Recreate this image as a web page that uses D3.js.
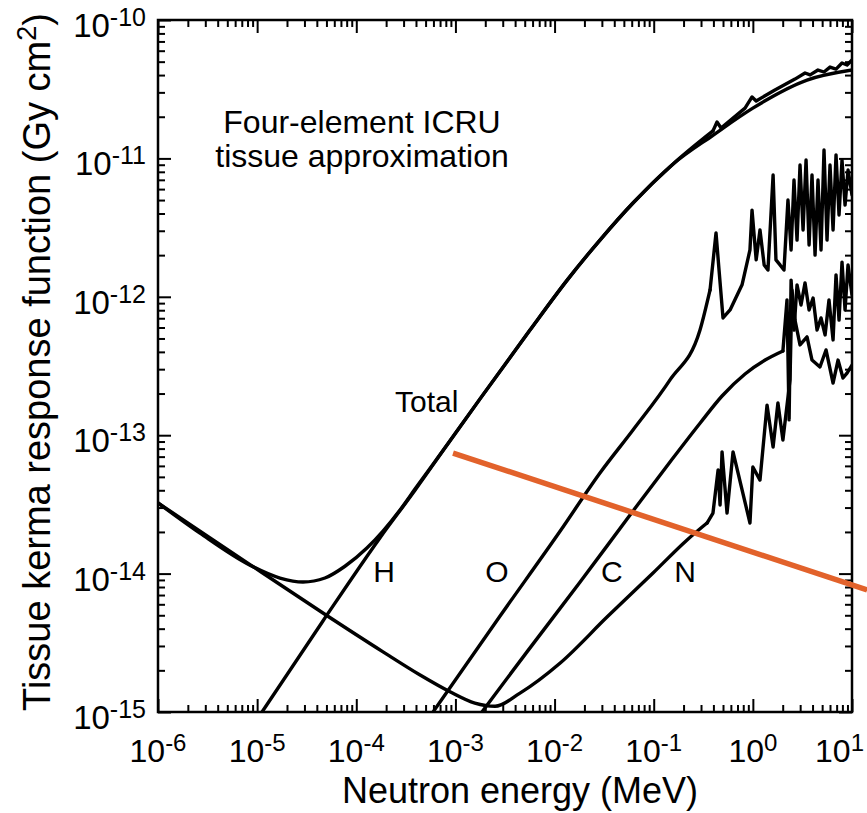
<!DOCTYPE html>
<html><head><meta charset="utf-8">
<script src="https://cdn.jsdelivr.net/npm/d3@7"></script>
<style>
body{margin:0;background:#fff}
svg{display:block}
text{font-family:"Liberation Sans",Arial,Helvetica,sans-serif;fill:#000}
</style>
</head><body>
<svg id="chart" width="867" height="813"></svg>
<script>
// ---------- data ----------
const xTickExponents = [-6, -5, -4, -3, -2, -1, 0, 1];
const yTickExponents = [-15, -14, -13, -12, -11, -10];

const totalE = [1e-6, 2.65e-6, 8.47e-6, 1.70e-5, 2.90e-5, 4.83e-5, 7.69e-5, 1.28e-4, 1.86e-4, 2.76e-4, 3.91e-4, 8.22e-4, 1.77e-3, 5.65e-3, 1.34e-2, 2.87e-2, 6.18e-2, 0.157, 0.396, 0.435, 0.478, 0.834, 0.981, 1.08, 1.67, 2.66, 3.36, 3.78, 4.54, 5.22, 6.00, 6.90, 7.93, 8.91, 10];
const totalK = [3.24e-14, 1.96e-14, 1.15e-14, 9.29e-15, 8.69e-15, 9.29e-15, 1.13e-14, 1.53e-14, 2.03e-14, 2.88e-14, 4.08e-14, 8.49e-14, 1.83e-13, 5.75e-13, 1.32e-12, 2.57e-12, 4.76e-12, 9.12e-12, 1.58e-11, 1.83e-11, 1.66e-11, 2.31e-11, 2.78e-11, 2.60e-11, 3.12e-11, 3.74e-11, 4.14e-11, 4.01e-11, 4.35e-11, 4.21e-11, 4.57e-11, 4.42e-11, 4.89e-11, 4.73e-11, 5.14e-11];

const hE = [1.12e-5, 4.61e-5, 1.73e-4, 3.91e-4, 8.22e-4, 1.77e-3, 5.65e-3, 1.34e-2, 2.87e-2, 6.18e-2, 0.157, 0.396, 1.0, 3.52, 10];
const hK = [1e-15, 4.55e-15, 1.81e-14, 4.00e-14, 8.49e-14, 1.83e-13, 5.75e-13, 1.32e-12, 2.57e-12, 4.76e-12, 9.12e-12, 1.47e-11, 2.31e-11, 3.68e-11, 4.35e-11];

const oE = [5.94e-4, 2.82e-3, 1.14e-2, 2.87e-2, 6.18e-2, 0.146, 0.293, 0.370, 0.425, 0.456, 0.500, 0.589, 0.778, 0.935, 0.981, 1.08, 1.18, 1.30, 1.42, 1.60, 1.71, 1.88, 2.06, 2.26, 2.43, 2.60, 2.79, 2.99, 3.21, 3.44, 3.69, 3.95, 4.24, 4.54, 4.87, 5.22, 5.60, 6.00, 6.44, 6.90, 7.40, 7.93, 8.51, 9.12, 10];
const oK = [1e-15, 4.94e-15, 2.03e-14, 5.33e-14, 1.09e-13, 2.51e-13, 5.75e-13, 1.12e-12, 2.89e-12, 1.56e-12, 7.03e-13, 8.03e-13, 1.22e-12, 2.18e-12, 4.23e-12, 1.85e-12, 3.04e-12, 1.70e-12, 1.56e-12, 7.59e-12, 1.85e-12, 1.70e-12, 1.56e-12, 5.00e-12, 2.18e-12, 6.98e-12, 2.57e-12, 8.95e-12, 3.04e-12, 9.73e-12, 2.37e-12, 7.59e-12, 2.00e-12, 6.98e-12, 2.18e-12, 1.15e-11, 2.57e-12, 8.95e-12, 3.04e-12, 1.06e-11, 3.90e-12, 9.73e-12, 4.60e-12, 8.24e-12, 5.44e-12];

const cE = [1.85e-3, 5.27e-3, 1.81e-2, 5.77e-2, 0.146, 0.293, 0.489, 0.834, 1.33, 2.01, 2.21, 2.32, 2.43, 2.60, 2.79, 3.06, 3.36, 3.69, 4.05, 4.44, 4.87, 5.35, 5.86, 6.44, 6.90, 7.40, 7.93, 8.51, 9.12, 10];
const cK = [1e-15, 2.72e-15, 8.69e-15, 2.65e-14, 6.40e-14, 1.22e-13, 1.92e-13, 2.77e-13, 3.49e-13, 4.06e-13, 9.48e-13, 1.29e-13, 1.32e-12, 5.75e-13, 1.22e-12, 8.73e-13, 1.26e-12, 8.03e-13, 9.79e-13, 5.75e-13, 7.03e-13, 5.30e-13, 9.48e-13, 4.88e-13, 1.44e-12, 6.79e-13, 1.78e-12, 8.03e-13, 1.70e-12, 1.03e-12];

const nE = [1e-6, 3.35e-6, 1.07e-5, 4.61e-5, 1.86e-4, 4.40e-4, 8.81e-4, 1.57e-3, 2.51e-3, 4.48e-3, 1.14e-2, 3.38e-2, 9.84e-2, 0.217, 0.345, 0.396, 0.446, 0.467, 0.489, 0.549, 0.631, 0.935, 1.0, 1.18, 1.39, 1.60, 1.79, 2.01, 2.37, 2.48, 2.66, 2.99, 3.52, 3.95, 4.75, 5.47, 6.44, 7.23, 8.11, 8.91, 10];
const nK = [3.24e-14, 1.81e-14, 1.04e-14, 5.19e-15, 2.72e-15, 1.85e-15, 1.40e-15, 1.16e-15, 1.10e-15, 1.37e-15, 2.26e-15, 4.85e-15, 1.01e-14, 1.75e-14, 2.32e-14, 2.74e-14, 5.61e-14, 3.13e-14, 7.57e-14, 2.74e-14, 7.57e-14, 2.32e-14, 5.89e-14, 4.74e-14, 1.65e-13, 8.22e-14, 1.71e-13, 9.23e-14, 2.51e-13, 1.12e-12, 6.79e-13, 4.49e-13, 5.13e-13, 3.49e-13, 3.11e-13, 4.13e-13, 2.38e-13, 3.49e-13, 2.59e-13, 2.81e-13, 3.21e-13];

// orange overlay segment (data coordinates of its end points)
const orangeE = [9.46e-4, 14.2];
const orangeK = [7.43e-14, 7.62e-15];

const titleLines = ["Four-element ICRU", "tissue approximation"];
const curveLabels = ["H", "O", "C", "N"];
const curveLabelE = [1.91e-4, 2.62e-3, 3.79e-2, 0.207];
const curveLabelK = 8.69e-15;
const totalLabelE = 2.46e-4, totalLabelK = 1.47e-13;
const xTitle = "Neutron energy (MeV)";

// ---------- layout ----------
const svg = d3.select("#chart");
const W = 867;
const L = 158, R = 852, T = 20, B = 712;
const x = d3.scaleLog().domain([1e-6, 10]).range([L, R]);
const y = d3.scaleLog().domain([1e-15, 1e-10]).range([B, T]);

const majorX = xTickExponents.map(e => Math.pow(10, e));
const majorY = yTickExponents.map(e => Math.pow(10, e));
const minorOf = exps => {
  const out = [];
  for (let i = 0; i < exps.length - 1; i++)
    for (let k = 2; k <= 9; k++) out.push(k * Math.pow(10, exps[i]));
  return out;
};
const minorX = minorOf(xTickExponents);
const minorY = minorOf(yTickExponents);

svg.append("defs").append("clipPath").attr("id", "plotclip")
  .append("rect").attr("x", L).attr("y", T).attr("width", R - L).attr("height", B - T);

// ticks (inward on all four sides)
const MAJ = 13, MIN = 7;
function addAxis(gen, transform) {
  const g = svg.append("g").attr("transform", transform).call(gen);
  g.select(".domain").remove();
  g.selectAll("line").attr("stroke", "#000").attr("stroke-width", 2);
  g.selectAll("text").remove();
}
addAxis(d3.axisBottom(x).tickValues(majorX).tickSize(-MAJ), `translate(0,${B})`);
addAxis(d3.axisBottom(x).tickValues(minorX).tickSize(-MIN), `translate(0,${B})`);
addAxis(d3.axisTop(x).tickValues(majorX).tickSize(-MAJ), `translate(0,${T})`);
addAxis(d3.axisTop(x).tickValues(minorX).tickSize(-MIN), `translate(0,${T})`);
addAxis(d3.axisLeft(y).tickValues(majorY).tickSize(-MAJ), `translate(${L},0)`);
addAxis(d3.axisLeft(y).tickValues(minorY).tickSize(-MIN), `translate(${L},0)`);
addAxis(d3.axisRight(y).tickValues(majorY).tickSize(-MAJ), `translate(${R},0)`);
addAxis(d3.axisRight(y).tickValues(minorY).tickSize(-MIN), `translate(${R},0)`);

svg.append("rect").attr("x", L).attr("y", T).attr("width", R - L).attr("height", B - T)
  .attr("fill", "none").attr("stroke", "#000").attr("stroke-width", 2.5);

// tick labels
const xl = svg.append("g");
xTickExponents.forEach(e => {
  const t = xl.append("text").attr("x", x(Math.pow(10, e))).attr("y", B + 50)
    .attr("text-anchor", "middle").style("font-size", "32px");
  t.append("tspan").text("10");
  t.append("tspan").attr("dy", -11).style("font-size", "24px").text(String(e));
  const bb = t.node().getBBox();
  if (bb.x + bb.width > W - 3) t.attr("text-anchor", "end").attr("x", W - 3);
});
const yl = svg.append("g");
yTickExponents.forEach(e => {
  const t = yl.append("text").attr("x", 146).attr("y", y(Math.pow(10, e)) + 17)
    .attr("text-anchor", "end").style("font-size", "33px");
  t.append("tspan").text("10");
  t.append("tspan").attr("dy", -11).style("font-size", "25px").text(String(e));
});

// axis titles
svg.append("text").attr("x", 520).attr("y", 803).attr("text-anchor", "middle")
  .style("font-size", "36px").text(xTitle);
const yt = svg.append("text").attr("transform", "translate(50,362) rotate(-90)")
  .attr("text-anchor", "middle").style("font-size", "38px");
yt.append("tspan").text("Tissue kerma response function (Gy cm");
yt.append("tspan").attr("dy", -14).style("font-size", "27px").text("2");
yt.append("tspan").attr("dy", 14).text(")");

// curves: smooth interpolation below the resonance region, straight segments inside it
const smoothLine = d3.line().x(d => x(d[0])).y(d => y(d[1])).curve(d3.curveMonotoneX);
const spikyLine = d3.line().x(d => x(d[0])).y(d => y(d[1])).curve(d3.curveLinear);
const series = [
  {E: totalE, K: totalK, split: 0.396},
  {E: hE, K: hK, split: 100},
  {E: oE, K: oK, split: 0.370},
  {E: cE, K: cK, split: 2.01},
  {E: nE, K: nK, split: 0.345}
];
const cg = svg.append("g").attr("clip-path", "url(#plotclip)");
series.forEach(s => {
  const pts = s.E.map((v, i) => [v, s.K[i]]);
  const smooth = pts.filter(p => p[0] <= s.split);
  const spiky = pts.filter(p => p[0] >= s.split);
  [[smooth, smoothLine], [spiky, spikyLine]].forEach(([p, gen]) => {
    if (p.length < 2) return;
    cg.append("path").datum(p).attr("d", gen).attr("fill", "none").attr("stroke", "#000")
      .attr("stroke-width", 3.4).attr("stroke-linejoin", "round").attr("stroke-linecap", "round");
  });
});

// annotations
titleLines.forEach((s, i) => {
  svg.append("text").attr("x", 362).attr("y", 133 + i * 34).attr("text-anchor", "middle")
    .style("font-size", "32px").text(s);
});
svg.append("text").attr("x", x(totalLabelE)).attr("y", y(totalLabelK))
  .style("font-size", "30px").text("Total");
curveLabels.forEach((s, i) => {
  svg.append("text").attr("x", x(curveLabelE[i])).attr("y", y(curveLabelK))
    .attr("text-anchor", "middle").style("font-size", "30px").text(s);
});

// orange overlay line
svg.append("line")
  .attr("x1", x(orangeE[0])).attr("y1", y(orangeK[0]))
  .attr("x2", x(orangeE[1])).attr("y2", y(orangeK[1]))
  .attr("stroke", "#E2622B").attr("stroke-width", 5.5);
</script>
</body></html>
